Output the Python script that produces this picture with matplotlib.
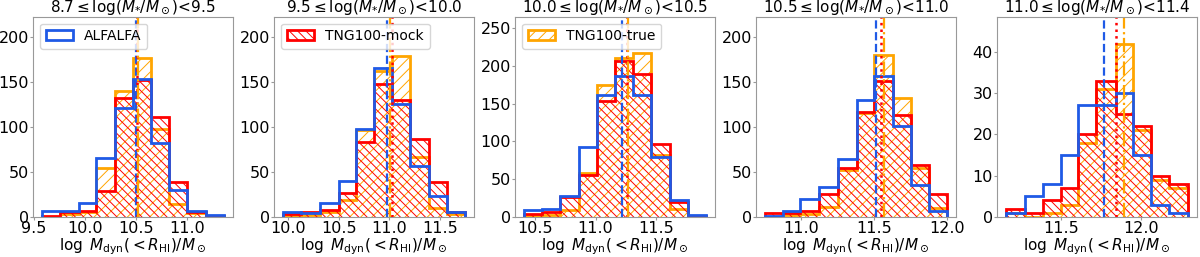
import numpy as np
import matplotlib.pyplot as plt
from matplotlib.ticker import MultipleLocator

plt.rcParams['hatch.linewidth'] = 0.7

# stellar-mass bins (panel titles)
titles = [
    r'$8.7 \leq \log(M_{*}/M_\odot)$<9.5',
    r'$9.5 \leq \log(M_{*}/M_\odot)$<10.0',
    r'$10.0 \leq \log(M_{*}/M_\odot)$<10.5',
    r'$10.5 \leq \log(M_{*}/M_\odot)$<11.0',
    r'$11.0 \leq \log(M_{*}/M_\odot)$<11.4',
]

# log Mdyn bin edges per panel
edges_1 = [9.58, 9.76, 9.94, 10.11, 10.29, 10.47, 10.65, 10.82, 11.00, 11.18, 11.36]
edges_2 = [9.95, 10.13, 10.32, 10.50, 10.67, 10.85, 11.03, 11.21, 11.39, 11.57, 11.75]
edges_3 = [10.41, 10.56, 10.71, 10.86, 11.01, 11.16, 11.31, 11.46, 11.61, 11.76, 11.91]
edges_4 = [10.75, 10.87, 10.99, 11.12, 11.25, 11.38, 11.50, 11.63, 11.75, 11.88, 12.00]
edges_5 = [11.16, 11.28, 11.39, 11.50, 11.61, 11.72, 11.84, 11.95, 12.06, 12.17, 12.29]

# counts per bin
alfalfa_1 = [7, 7, 15, 66, 121, 154, 82, 30, 7, 2]
mock_1 = [1, 6, 7, 29, 132, 152, 111, 39, 6, 1]
true_1 = [0, 3, 6, 55, 140, 177, 98, 14, 4, 1]

alfalfa_2 = [6, 4, 15, 40, 98, 166, 126, 57, 23, 5]
mock_2 = [3, 5, 8, 27, 83, 148, 130, 87, 39, 6]
true_2 = [1, 2, 5, 19, 97, 162, 179, 67, 10, 3]

alfalfa_3 = [9, 11, 28, 92, 161, 186, 161, 79, 22, 3]
mock_3 = [4, 6, 26, 56, 153, 207, 189, 97, 20, 1]
true_3 = [1, 2, 9, 58, 174, 210, 217, 82, 11, 1]

alfalfa_4 = [1, 7, 20, 33, 65, 130, 157, 101, 36, 7]
mock_4 = [4, 4, 7, 26, 55, 117, 151, 113, 58, 26]
true_4 = [0, 2, 3, 11, 52, 116, 180, 133, 55, 10]

alfalfa_5 = [1, 5, 8, 15, 27, 27, 30, 15, 3, 1]
mock_5 = [2, 1, 4, 7, 20, 33, 25, 22, 10, 8]
true_5 = [1, 0, 1, 3, 18, 31, 42, 21, 9, 7]

# sample means (vertical lines)
mean_alfalfa = [10.50, 10.98, 11.22, 11.51, 11.77]
mean_mock = [10.51, 11.03, 11.26, 11.55, 11.84]
mean_true = [10.52, 11.01, 11.27, 11.57, 11.89]

edges = [edges_1, edges_2, edges_3, edges_4, edges_5]
alfalfa = [alfalfa_1, alfalfa_2, alfalfa_3, alfalfa_4, alfalfa_5]
mock = [mock_1, mock_2, mock_3, mock_4, mock_5]
true = [true_1, true_2, true_3, true_4, true_5]
ytop = [223, 223, 265, 223, 48.5]
ystep = [50, 50, 50, 50, 10]

c_alf = '#1f5ae6'
c_mock = 'red'
c_true = 'orange'

fig = plt.figure(figsize=(12, 2.57), dpi=100)

for i in range(5):
    ax = fig.add_axes([(33 + 241 * i) / 1200, 0.156, 200 / 1200, 0.779])
    e = np.array(edges[i])
    mid = 0.5 * (e[:-1] + e[1:])

    _, _, p_true = ax.hist(mid, bins=e, weights=true[i], histtype='step',
                           color=c_true, hatch='///', lw=2, label='TNG100-true')
    _, _, p_mock = ax.hist(mid, bins=e, weights=mock[i], histtype='step',
                           color=c_mock, hatch='\\\\\\\\', lw=2, label='TNG100-mock')
    _, _, p_alf = ax.hist(mid, bins=e, weights=alfalfa[i], histtype='step',
                          color=c_alf, lw=2, label='ALFALFA')

    ax.axvline(mean_alfalfa[i], color=c_alf, ls='--', lw=1.6)
    ax.axvline(mean_mock[i], color=c_mock, ls=':', lw=1.8)
    ax.axvline(mean_true[i], color=c_true, ls='-.', lw=1.6)

    ax.set_ylim(0, ytop[i])
    ax.xaxis.set_major_locator(MultipleLocator(0.5))
    ax.yaxis.set_major_locator(MultipleLocator(ystep[i]))
    ax.tick_params(labelsize=11.5, length=2, pad=1, color='#999999')
    ax.set_title(titles[i], fontsize=11, pad=0)
    ax.set_xlabel(r'$\log\ M_{\rm dyn}(<R_{\rm HI})/M_\odot$', fontsize=11, labelpad=0)
    for s in ax.spines.values():
        s.set_color('#999999')

    if i == 0:
        ax.legend(handles=[p_alf[0]], loc='upper left', fontsize=10)
    elif i == 1:
        ax.legend(handles=[p_mock[0]], loc='upper left', fontsize=10)
    elif i == 2:
        ax.legend(handles=[p_true[0]], loc='upper left', fontsize=10)

plt.savefig('out.png', dpi=100)
